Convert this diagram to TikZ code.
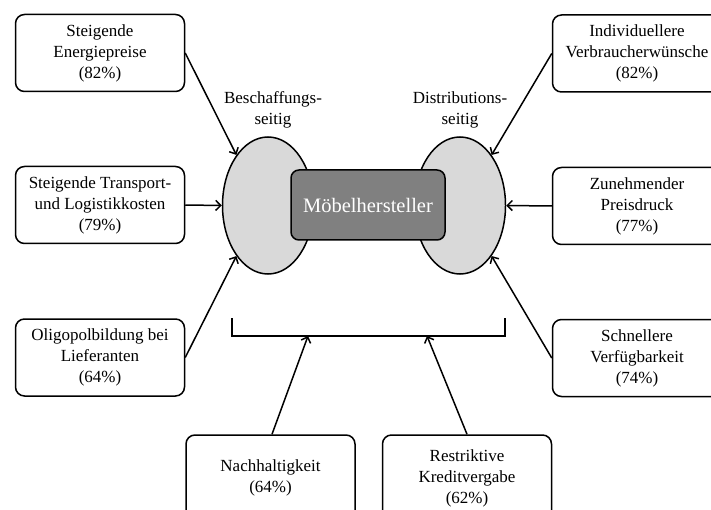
\documentclass[tikz,border=0pt]{standalone}
\usepackage{fontspec}
\setmainfont{Liberation Serif}
\usetikzlibrary{positioning,arrows.meta,shapes.geometric}

\begin{document}
\begin{tikzpicture}[x=1pt, y=-1pt, line width=1.5pt, >={Straight Barb[length=5pt,width=10pt]},
        factor/.style={draw=black, rounded corners=9pt, minimum width=169pt, minimum height=77pt,
          align=center, font=\fontsize{17}{21}\selectfont},
        side/.style={ellipse, draw=black, fill=gray!30, minimum width=91pt, minimum height=137pt, inner sep=0pt},
        core/.style={draw=black, fill=gray, rounded corners=8pt, minimum width=154pt, minimum height=70pt,
          text=white, font=\fontsize{20.5}{24}\selectfont},
        caption/.style={align=center, font=\fontsize{17}{21}\selectfont},
        edge_style/.style={draw=black, line width=1.5pt, ->}]
        \useasboundingbox (0,0) rectangle (711,510);
        \node[side] (Beschaffung) at (268,205.5) {};
        \node[side] (Distribution) at (460,205.5) {};
        \node[core] (Hersteller) at (368,205) {M\"obelhersteller};
        \node[caption] (BLabel) at (273,110) {Beschaffungs-\\seitig};
        \node[caption] (DLabel) at (460,110) {Distributions-\\seitig};
        \node[factor] (Energie) at (100,53) {Steigende\\Energiepreise\\(82\%)};
        \node[factor] (Transport) at (100,205) {Steigende Transport-\\und Logistikkosten\\(79\%)};
        \node[factor] (Oligopol) at (100,357.5) {Oligopolbildung bei\\Lieferanten\\(64\%)};
        \node[factor] (Wuensche) at (637,53.5) {Individuellere\\Verbraucherw\"unsche\\(82\%)};
        \node[factor] (Preisdruck) at (637,206) {Zunehmender\\Preisdruck\\(77\%)};
        \node[factor] (Verfuegbar) at (637,358) {Schnellere\\Verf\"ugbarkeit\\(74\%)};
        \node[factor, minimum height=86pt] (Nachhaltig) at (270.5,478) {Nachhaltigkeit\\(64\%)};
        \node[factor, minimum height=86pt] (Kredit) at (467,478) {Restriktive\\Kreditvergabe\\(62\%)};
        % Klammer
        \coordinate (KL) at (232,318);
        \coordinate (KR) at (505,318);
        \coordinate (K1) at (308,336);
        \coordinate (K2) at (427,336);
        \draw (KL) -- (KL |- K1) -- (KR |- K1) -- (KR);
        \draw[edge_style] (Energie.east) to (Beschaffung.122);
        \draw[edge_style] (Transport.east) to (Beschaffung.west);
        \draw[edge_style] (Oligopol.east) to (Beschaffung.238);
        \draw[edge_style] (Wuensche.west) to (Distribution.58);
        \draw[edge_style] (Preisdruck.west) to (Distribution.east);
        \draw[edge_style] (Verfuegbar.west) to (Distribution.302);
        \draw[edge_style] ([xshift=1.5pt]Nachhaltig.north) to (K1);
        \draw[edge_style] (Kredit.north) to (K2);
      \end{tikzpicture}
\end{document}
